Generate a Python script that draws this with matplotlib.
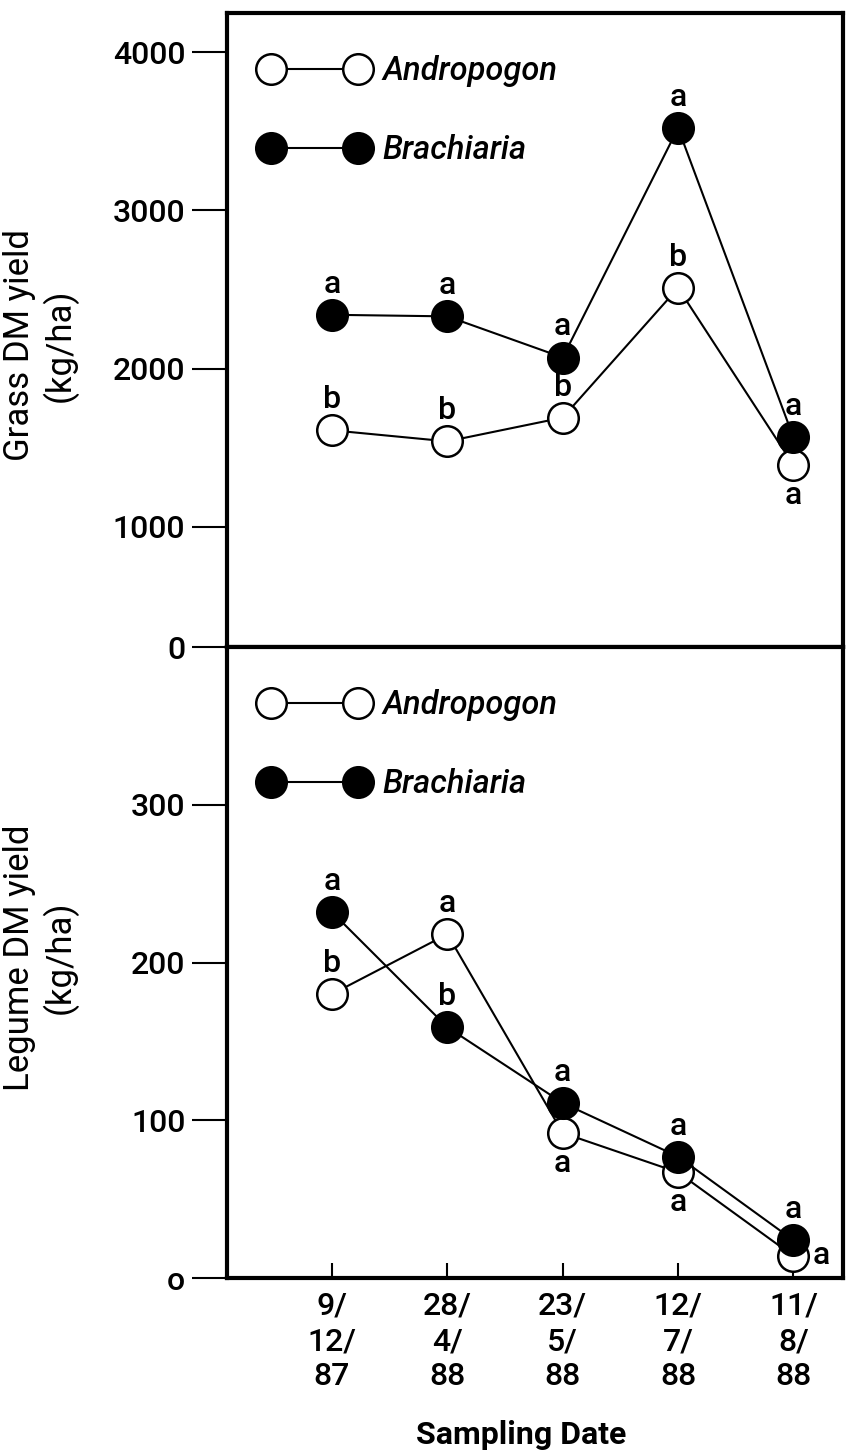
import matplotlib
matplotlib.use("Agg")
import matplotlib.pyplot as plt
from matplotlib.lines import Line2D

plt.rcParams['font.family'] = ['Roboto', 'Liberation Sans', 'DejaVu Sans']
plt.rcParams['font.weight'] = 'medium'

# data
dates = ["9/\n12/\n87", "28/\n4/\n88", "23/\n5/\n88", "12/\n7/\n88", "11/\n8/\n88"]
grass_andro = [1610, 1540, 1690, 2510, 1390]
grass_brach = [2340, 2330, 2070, 3520, 1565]
legume_andro = [180, 218, 92, 67, 14]
legume_brach = [232, 159, 111, 77, 24]

# significance letters
grass_andro_sig = ["b", "b", "b", "b", "a"]
grass_brach_sig = ["a", "a", "a", "a", "a"]
legume_andro_sig = ["b", "a", "a", "a", "a"]
legume_brach_sig = ["a", "b", "a", "a", "a"]

# where each letter sits relative to its point
grass_andro_pos = ["up", "up", "up", "up", "down"]
grass_brach_pos = ["up", "up", "up", "up", "up"]
legume_andro_pos = ["up", "up", "down", "down", "right"]
legume_brach_pos = ["up", "up", "up", "up", "up"]

offsets = {"up": (0, 22), "down": (0, -22), "right": (20, 0)}

fig = plt.figure(figsize=(8.5, 14.54), dpi=100)
ax1 = fig.add_axes([0.2671, 0.555, 0.7247, 0.436])
ax2 = fig.add_axes([0.2671, 0.121, 0.7247, 0.434])

x = list(range(len(dates)))
ms = 22
mew = 1.8
lw = 1.5


def draw(ax, andro, brach, a_sig, b_sig, a_pos, b_pos):
    ax.plot(x, andro, color="black", lw=lw, marker="o", ms=ms, mfc="white",
            mec="black", mew=mew, zorder=3)
    ax.plot(x, brach, color="black", lw=lw, marker="o", ms=ms, mfc="black",
            mec="black", mew=mew, zorder=4)
    for xi, v, s, p in zip(x, andro, a_sig, a_pos):
        ax.annotate(s, (xi, v), xytext=offsets[p], textcoords="offset points",
                    ha="center", va="center", fontsize=23)
    for xi, v, s, p in zip(x, brach, b_sig, b_pos):
        ax.annotate(s, (xi, v), xytext=offsets[p], textcoords="offset points",
                    ha="center", va="center", fontsize=23)
    handles = [
        Line2D([], [], color="black", lw=lw, marker="o", ms=ms, mfc="white", mec="black", mew=mew),
        Line2D([], [], color="black", lw=lw, marker="o", ms=ms, mfc="black", mec="black", mew=mew),
    ]
    ax.legend(handles, ["Andropogon", "Brachiaria"], loc="upper left",
              bbox_to_anchor=(0.008, 0.98), numpoints=2, handlelength=3.25,
              handletextpad=0.45, labelspacing=1.45, frameon=False,
              prop={"style": "italic", "size": 23.5, "weight": "medium"})
    for sp in ax.spines.values():
        sp.set_linewidth(3)
    ax.tick_params(axis="y", direction="out", length=25, width=1.5, pad=5, labelsize=23)
    ax.set_xlim(-0.91, 4.43)


draw(ax1, grass_andro, grass_brach, grass_andro_sig, grass_brach_sig,
     grass_andro_pos, grass_brach_pos)
draw(ax2, legume_andro, legume_brach, legume_andro_sig, legume_brach_sig,
     legume_andro_pos, legume_brach_pos)

# top panel: the printed "0" sits on the panel floor
ax1.set_ylim(240, 4247)
ax1.set_yticks([240, 1000, 2000, 3000, 4000])
ax1.set_yticklabels(["0", "1000", "2000", "3000", "4000"])
ax1.set_xticks([])
ax1.set_ylabel("Grass DM yield\n(kg/ha)", fontsize=25, fontweight="normal")
ax1.yaxis.set_label_coords(-0.242, 0.476)

ax2.set_ylim(0, 400)
ax2.set_yticks([0, 100, 200, 300])
ax2.set_yticklabels(["o", "100", "200", "300"])
ax2.set_xticks(x)
ax2.set_xticklabels(dates, fontsize=23, linespacing=1.27)
ax2.tick_params(axis="x", direction="in", length=11, width=1.5, pad=10)
ax2.set_ylabel("Legume DM yield\n(kg/ha)", fontsize=25, fontweight="normal")
ax2.yaxis.set_label_coords(-0.242, 0.508)
ax2.set_xlabel("Sampling Date", fontsize=23, fontweight="bold")
ax2.xaxis.set_label_coords(0.477, -0.225)

fig.savefig("out.png", dpi=100)
